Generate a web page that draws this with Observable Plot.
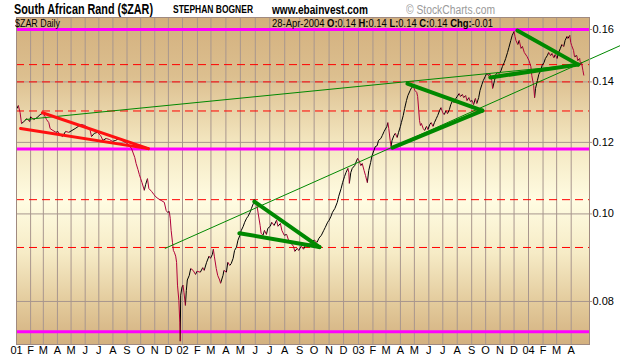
<!DOCTYPE html>
<html><head><meta charset="utf-8">
<script src="https://cdn.jsdelivr.net/npm/d3@7"></script>
<script src="https://cdn.jsdelivr.net/npm/@observablehq/plot@0.6"></script>
<style>
html,body{margin:0;padding:0;background:#fff;}
#wrap{position:relative;width:620px;height:359px;overflow:hidden;font-family:"Liberation Sans",Arial,sans-serif;}
#head{position:relative;height:16px;}
.t{position:absolute;white-space:nowrap;line-height:1;transform-origin:0 0;}
.tr{transform-origin:100% 0;}
#chart svg{display:block;}
</style></head><body>
<div id="wrap">
  <div id="head">
    <span class="t fit" data-w="139" style="left:14px;top:1.5px;font-size:14.5px;font-weight:bold;">South African Rand ($ZAR)</span>
    <span class="t fit" data-w="80" style="left:173px;top:4px;font-size:11px;font-weight:bold;">STEPHAN BOGNER</span>
    <span class="t fit" data-w="96" style="left:272px;top:3.5px;font-size:12px;font-weight:bold;">www.ebainvest.com</span>
    <span class="t fit" data-w="89" style="left:406px;top:3.5px;font-size:12px;color:#9a9a9a;">© StockCharts.com</span>
  </div>
  <div id="chart"></div>
  <span class="t fit" data-w="45" style="left:15px;top:18.5px;font-size:10px;">$ZAR Daily</span>
  <span class="t tr fit" data-w="221" style="right:127px;top:18px;font-size:11px;">28-Apr-2004 <b>O:</b>0.14 <b>H:</b>0.14 <b>L:</b>0.14 <b>C:</b>0.14 <b>Chg:</b>-0.01</span>
</div>
<script>
// ---------- data ----------
const priceDates = [
"2001-01-02","2001-01-05","2001-01-09","2001-01-12","2001-01-17","2001-01-24","2001-01-30",
"2001-02-01","2001-02-08","2001-02-15","2001-02-22","2001-02-26",
"2001-03-01","2001-03-05","2001-03-08","2001-03-13","2001-03-16","2001-03-22","2001-03-29",
"2001-04-02","2001-04-06","2001-04-12","2001-04-19","2001-04-26",
"2001-05-03","2001-05-10","2001-05-17","2001-05-24","2001-05-31",
"2001-06-07","2001-06-12","2001-06-15","2001-06-21","2001-06-28",
"2001-07-05","2001-07-10","2001-07-17","2001-07-24","2001-07-31",
"2001-08-07","2001-08-14","2001-08-21","2001-08-28",
"2001-09-04","2001-09-11","2001-09-18","2001-09-21","2001-09-25","2001-09-28",
"2001-10-01","2001-10-04","2001-10-09","2001-10-12","2001-10-16","2001-10-19","2001-10-25","2001-10-30",
"2001-11-02","2001-11-08","2001-11-15","2001-11-22","2001-11-26","2001-11-29",
"2001-12-03","2001-12-05","2001-12-07","2001-12-10","2001-12-12","2001-12-14","2001-12-17","2001-12-19","2001-12-21","2001-12-24","2001-12-26","2001-12-27","2001-12-28","2001-12-31",
"2002-01-02","2002-01-04","2002-01-07","2002-01-09","2002-01-11","2002-01-15","2002-01-18","2002-01-23","2002-01-28","2002-01-31",
"2002-02-07","2002-02-12","2002-02-15","2002-02-20","2002-02-25","2002-02-28",
"2002-03-04","2002-03-06","2002-03-08","2002-03-12","2002-03-15","2002-03-19","2002-03-21","2002-03-26","2002-03-28",
"2002-04-02","2002-04-05","2002-04-09","2002-04-12","2002-04-16","2002-04-19","2002-04-23","2002-04-26","2002-04-30",
"2002-05-03","2002-05-07","2002-05-10","2002-05-14","2002-05-17","2002-05-21","2002-05-24","2002-05-28","2002-05-30",
"2002-06-03","2002-06-05","2002-06-07","2002-06-11","2002-06-13","2002-06-17","2002-06-20","2002-06-24","2002-06-27",
"2002-07-02","2002-07-05","2002-07-10","2002-07-15","2002-07-18","2002-07-23","2002-07-26","2002-07-31",
"2002-08-05","2002-08-09","2002-08-14","2002-08-19","2002-08-22","2002-08-27","2002-08-30",
"2002-09-04","2002-09-09","2002-09-13","2002-09-18","2002-09-23","2002-09-27",
"2002-10-02","2002-10-07","2002-10-11","2002-10-16","2002-10-21","2002-10-24","2002-10-29",
"2002-11-01","2002-11-05","2002-11-08","2002-11-13","2002-11-18","2002-11-21","2002-11-26","2002-11-29",
"2002-12-03","2002-12-06","2002-12-10","2002-12-12","2002-12-13","2002-12-16","2002-12-19","2002-12-24","2002-12-30",
"2003-01-02","2003-01-06","2003-01-09","2003-01-13","2003-01-16","2003-01-20","2003-01-23","2003-01-27","2003-01-30",
"2003-02-03","2003-02-06","2003-02-10","2003-02-13","2003-02-18","2003-02-21","2003-02-25",
"2003-03-03","2003-03-05","2003-03-07","2003-03-10","2003-03-12","2003-03-14","2003-03-18","2003-03-21","2003-03-25","2003-03-28",
"2003-04-01","2003-04-03","2003-04-07","2003-04-10","2003-04-14","2003-04-17","2003-04-22","2003-04-25","2003-04-29",
"2003-05-02","2003-05-06","2003-05-08","2003-05-12","2003-05-14","2003-05-16","2003-05-20","2003-05-23","2003-05-27","2003-05-30",
"2003-06-03","2003-06-06","2003-06-10","2003-06-13","2003-06-17","2003-06-20","2003-06-24","2003-06-27",
"2003-07-01","2003-07-04","2003-07-08","2003-07-11","2003-07-15","2003-07-18","2003-07-22","2003-07-25","2003-07-29",
"2003-08-01","2003-08-05","2003-08-08","2003-08-12","2003-08-15","2003-08-19","2003-08-22","2003-08-26","2003-08-29",
"2003-09-02","2003-09-05","2003-09-09","2003-09-12","2003-09-16","2003-09-19","2003-09-23","2003-09-26","2003-09-30",
"2003-10-03","2003-10-07","2003-10-10","2003-10-14","2003-10-16","2003-10-20","2003-10-23","2003-10-27","2003-10-30",
"2003-11-03","2003-11-06","2003-11-10","2003-11-13","2003-11-17","2003-11-20","2003-11-24","2003-11-27",
"2003-12-01","2003-12-03","2003-12-05","2003-12-09","2003-12-12","2003-12-16","2003-12-19","2003-12-23","2003-12-29",
"2004-01-02","2004-01-06","2004-01-08","2004-01-12","2004-01-14","2004-01-16","2004-01-20","2004-01-23","2004-01-27","2004-01-30",
"2004-02-03","2004-02-06","2004-02-10","2004-02-13","2004-02-17","2004-02-20","2004-02-24","2004-02-27",
"2004-03-02","2004-03-05","2004-03-09","2004-03-12","2004-03-16","2004-03-19","2004-03-23","2004-03-25","2004-03-29","2004-03-31",
"2004-04-02","2004-04-06","2004-04-08","2004-04-13","2004-04-15","2004-04-19","2004-04-21","2004-04-23","2004-04-26","2004-04-28"
];
const priceValues = [
.1308,.1318,.1294,.1259,.1265,.1275,.1265,
.1281,.1272,.1278,.1288,.1291,
.1294,.1281,.1272,.1262,.1243,.1237,.1231,
.1234,.1225,.1218,.1234,.1231,
.1237,.1243,.1250,.1256,.1253,
.1246,.1237,.1218,.1228,.1231,
.1221,.1206,.1212,.1209,.1203,
.1206,.1212,.1206,.1200,
.1194,.1181,.1155,.1137,.1120,.1106,
.1094,.1083,.1062,.1078,.1094,.1067,.1059,.1051,
.1046,.1040,.1035,.1030,.1009,.1004,
.1006,.0989,.0959,.0930,.0911,.0907,.0898,.0884,.0834,.0802,.0759,.0723,.0813,.0830,
.0834,.0819,.0792,.0823,.0845,.0855,.0870,.0866,.0857,.0864,
.0862,.0872,.0866,.0884,.0898,.0893,
.0902,.0914,.0898,.0870,.0855,.0845,.0838,.0855,.0866,
.0862,.0884,.0877,.0881,.0893,.0911,.0919,.0935,.0947,
.0959,.0969,.0979,.0989,.0994,.1004,.1014,.1027,.1038,
.1032,.1017,.1001,.0971,.0952,.0947,.0959,.0949,.0964,
.0969,.0979,.0971,.0984,.0969,.0976,.0959,.0947,
.0949,.0935,.0928,.0921,.0909,.0916,.0911,
.0921,.0914,.0923,.0919,.0928,.0933,
.0935,.0930,.0940,.0947,.0959,.0966,.0979,
.0984,.0994,.1004,.1014,.1030,.1046,.1067,.1083,
.1100,.1111,.1123,.1111,.1081,.1111,.1123,.1131,.1152,
.1146,.1131,.1137,.1117,.1103,.1083,.1117,.1140,.1160,
.1175,.1187,.1190,.1206,.1212,.1221,.1234,
.1250,.1262,.1243,.1206,.1187,.1206,.1221,.1228,.1215,.1231,
.1250,.1262,.1285,.1308,.1335,.1352,.1370,.1380,.1384,
.1370,.1363,.1349,.1269,.1253,.1259,.1243,.1237,.1250,.1240,
.1256,.1262,.1250,.1262,.1275,.1285,.1301,.1311,
.1294,.1288,.1301,.1291,.1304,.1321,.1335,.1328,.1342,
.1349,.1359,.1349,.1356,.1345,.1352,.1335,.1345,.1332,
.1335,.1321,.1342,.1325,.1345,.1370,.1391,.1405,.1419,
.1430,.1423,.1430,.1405,.1377,.1405,.1427,.1434,.1430,
.1441,.1456,.1471,.1486,.1509,.1529,.1556,.1576,
.1592,.1572,.1556,.1540,.1556,.1525,.1532,.1509,.1493,
.1478,.1456,.1423,.1387,.1345,.1377,.1405,.1427,.1441,.1460,
.1471,.1486,.1497,.1509,.1497,.1505,.1489,.1501,
.1486,.1509,.1525,.1540,.1532,.1556,.1572,.1564,.1576,.1548,
.1536,.1517,.1493,.1497,.1478,.1486,.1463,.1471,.1441,.1423
];

// drawn trend lines: [group, style, startDate, startValue, endDate, endValue]
const trendLines = [
  ["redUpper",   "red",        "2001-02-27", 0.1294, "2001-10-18", 0.1181],
  ["redLower",   "red",        "2001-01-10", 0.1243, "2001-10-18", 0.1181],
  ["g2Upper",    "thickGreen", "2002-05-30", 0.1032, "2002-10-12", 0.0919],
  ["g2Lower",    "thickGreen", "2002-04-29", 0.0952, "2002-10-12", 0.0919],
  ["g3Upper",    "thickGreen", "2003-04-16", 0.1394, "2003-09-24", 0.1301],
  ["g3Lower",    "thickGreen", "2003-03-15", 0.1184, "2003-09-24", 0.1301],
  ["g4Upper",    "thickGreen", "2003-12-08", 0.1596, "2004-04-16", 0.1463],
  ["g4Lower",    "thickGreen", "2003-10-11", 0.1416, "2004-04-16", 0.1463],
  ["longA",      "thinGreen",  "2001-01-21", 0.1272, "2004-04-16", 0.1463],
  ["longB",      "thinGreen",  "2001-11-24", 0.0916, "2004-07-15", 0.1536]
];

const magentaLevels = [0.16, 0.118, 0.07405];
const redLevels = [0.1463, 0.14, 0.13, 0.1037, 0.0918];
const yTicks = [0.08, 0.10, 0.12, 0.14, 0.16];
const monthLabels = ["01","F","M","A","M","J","J","A","S","O","N","D",
  "02","F","M","A","M","J","J","A","S","O","N","D",
  "03","F","M","A","M","J","J","A","S","O","N","D",
  "04","F","M","A"];

// ---------- build ----------
const parse = d3.utcParse("%Y-%m-%d");
const price = priceDates.map((d, i) => ({date: parse(d), value: priceValues[i]}));
const segs = d3.pairs(price).map(([a, b]) => ({x1: a.date, y1: a.value, x2: b.date, y2: b.value, up: b.value >= a.value}));
const linePts = trendLines.flatMap(([id, style, d1, v1, d2, v2]) => [
  {id, style, date: parse(d1), value: v1},
  {id, style, date: parse(d2), value: v2}
]);
const monthDates = d3.utcMonth.range(parse("2001-01-01"), parse("2004-05-01"));
const labelMap = new Map(monthDates.map((d, i) => [+d, monthLabels[i]]));

const gridColor = "#a8968e";

const gradientDefs = () => {
  const defs = document.createElementNS("http://www.w3.org/2000/svg", "defs");
  defs.innerHTML = `<linearGradient id="bggrad" x1="0" y1="0" x2="0" y2="1">
    <stop offset="0" stop-color="#d3b07e"/>
    <stop offset="0.18" stop-color="#dcbf8f"/>
    <stop offset="0.38" stop-color="#f3e6bf"/>
    <stop offset="0.56" stop-color="#fffce2"/>
    <stop offset="0.72" stop-color="#f6ebc6"/>
    <stop offset="0.88" stop-color="#e2c99a"/>
    <stop offset="1" stop-color="#d3b07f"/>
  </linearGradient>`;
  return defs;
};

const chart = Plot.plot({
  width: 620,
  height: 343,
  marginTop: 1,
  marginBottom: 15,
  marginLeft: 16,
  marginRight: 31,
  style: {background: "transparent", overflow: "visible", fontFamily: "'Liberation Sans', Arial, sans-serif"},
  x: {type: "utc",
      domain: [parse("2001-01-01"), parse("2002-01-01"), parse("2003-01-01"), parse("2004-01-01"), parse("2004-05-10")],
      range: [16, 182, 358, 528, 589]},
  y: {type: "log", domain: [0.07169, 0.16497]},
  marks: [
    gradientDefs,
    Plot.frame({fill: "url(#bggrad)"}),
    Plot.ruleX(monthDates, {stroke: gridColor, strokeWidth: 1}),
    Plot.ruleY(yTicks, {stroke: gridColor, strokeWidth: 1}),
    Plot.ruleY(redLevels, {stroke: "#ff0000", strokeWidth: 1, strokeDasharray: "8,5"}),
    Plot.ruleY(magentaLevels, {stroke: "#ff00ff", strokeWidth: 3}),
    Plot.link(segs.filter(s => s.up), {x1: "x1", y1: "y1", x2: "x2", y2: "y2", stroke: "#000000", strokeWidth: 1}),
    Plot.link(segs.filter(s => !s.up), {x1: "x1", y1: "y1", x2: "x2", y2: "y2", stroke: "#b0003a", strokeWidth: 1}),
    Plot.line(linePts.filter(p => p.style === "thinGreen"), {x: "date", y: "value", z: "id", stroke: "#008800", strokeWidth: 1}),
    Plot.line(linePts.filter(p => p.style === "red"), {x: "date", y: "value", z: "id", stroke: "#ff1010", strokeWidth: 3}),
    Plot.line(linePts.filter(p => p.style === "thickGreen"), {x: "date", y: "value", z: "id", stroke: "#008800", strokeWidth: 4}),
    Plot.frame({stroke: "#a08a80", strokeWidth: 1}),
    Plot.axisX(monthDates, {tickSize: 0, tickPadding: 2, fontSize: 11, fill: "#000", tickFormat: d => labelMap.get(+d)}),
    Plot.axisY(yTicks, {anchor: "right", tickSize: 2, tickPadding: 1, fontSize: 11, fill: "#000", stroke: gridColor, tickFormat: d3.format(".2f")})
  ]
});
document.getElementById("chart").appendChild(chart);

// fit header texts to their widths
document.querySelectorAll(".fit").forEach(el => {
  const w = +el.dataset.w;
  const nat = el.getBoundingClientRect().width;
  if (nat > 0) el.style.transform = `scaleX(${w / nat})`;
});
</script>
</body></html>
